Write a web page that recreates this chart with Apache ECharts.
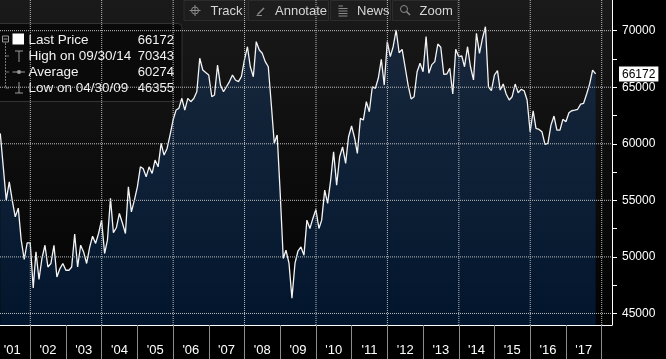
<!DOCTYPE html>
<html><head><meta charset="utf-8">
<script src="https://cdn.jsdelivr.net/npm/echarts@6/dist/echarts.min.js"></script>
<style>html,body{margin:0;padding:0;background:#000;}#c{width:666px;height:359px;}</style>
</head><body><div id="c"></div>
<script>
// ---- data (month-end values, first point Feb 2001) ----
const startYear = 2001, startMonth = 2;
const values2001 = [60920, 57900, 55020, 56640, 55020, 53540, 54310, 51480, 49770, 51240, 51240];
const values2002 = [47250, 50440, 48000, 49860, 51030, 49110, 49420, 51030, 48230, 48970, 49420, 48820];
const values2003 = [48820, 49110, 52010, 49110, 51040, 50440, 49420, 50850, 51830, 51190, 52070, 53250];
const values2004 = [50300, 51480, 55170, 52140, 52600, 53840, 53000, 52070, 56190, 53980, 55000, 56190];
const values2005 = [57960, 57820, 57080, 57960, 57380, 58560, 57960, 60040, 59000, 59590, 60770, 62100];
const values2006 = [62980, 63130, 64020, 62980, 64020, 63720, 64000, 64600, 67560, 66520, 66300, 66080];
const values2007 = [64160, 64310, 66960, 65190, 64600, 65040, 65500, 66080, 65640, 65490, 65930, 67410];
const values2008 = [68580, 66810, 65930, 69030, 68290, 68000, 67260, 66810, 63580, 60040, 60770, 55610];
const values2009 = [49860, 50590, 49420, 46355, 49420, 50500, 50880, 50150, 53250, 52510, 53400, 54190];
const values2010 = [52510, 53250, 55900, 54730, 56790, 59290, 56340, 58850, 59730, 58270, 60620, 61570];
const values2011 = [60500, 59150, 62250, 62100, 63720, 62830, 65040, 64900, 65790, 67470, 65190, 69030];
const values2012 = [67700, 68580, 70060, 68050, 68350, 66810, 65190, 63960, 64160, 66370, 67120, 66370];
const values2013 = [69470, 66230, 67000, 67260, 68820, 68530, 66140, 66170, 66670, 64400, 68350, 67700];
const values2014 = [67760, 66810, 68580, 66810, 65640, 69770, 68000, 69330, 70343, 65040, 64690, 66080];
const values2015 = [66460, 64750, 65280, 64400, 63870, 64160, 65280, 64510, 64810, 64690, 63870, 61060];
const values2016 = [62920, 61360, 61270, 61060, 59950, 60040, 61650, 62450, 61210, 61210, 62160, 61950];
const values2017 = [62740, 62920, 62980, 63050, 63500, 63580, 64400, 65300, 66520, 66172];

const yTickValues = [45000, 47500, 50000, 52500, 55000, 57500, 60000, 62500, 65000, 67500, 70000];
const yLabelValues = [45000, 50000, 55000, 60000, 65000, 70000];
const yearTicks = [2002, 2003, 2004, 2005, 2006, 2007, 2008, 2009, 2010, 2011, 2012, 2013, 2014, 2015, 2016, 2017, 2018];
const yearLabels = [2001, 2002, 2003, 2004, 2005, 2006, 2007, 2008, 2009, 2010, 2011, 2012, 2013, 2014, 2015, 2016, 2017];
const gridYears = [2002, 2004, 2006, 2008, 2010, 2012, 2014, 2016, 2018];
const legendNames = ['Last Price', 'High on 09/30/14', 'Average', 'Low on 04/30/09'];
const legendValues = ['66172', '70343', '60274', '46355'];
const lastPrice = 66172;
const toolbarButtons = ['Track', 'Annotate', 'News', 'Zoom'];

const values = [].concat(values2001, values2002, values2003, values2004, values2005, values2006,
  values2007, values2008, values2009, values2010, values2011, values2012, values2013,
  values2014, values2015, values2016, values2017);

const seriesData = values.map((v, i) => {
  const m = startMonth - 1 + i;
  const y = startYear + Math.floor(m / 12), mo = m % 12;
  return [Date.UTC(y, mo + 1, 0), v];
});

// axis range (layout): Jan 2002 at px 30.3, Jan 2018 at px 601.7, plot width 612
const T02 = Date.UTC(2002, 0, 1), T18 = Date.UTC(2018, 0, 1);
const msPerPx = (T18 - T02) / (601.7 - 30.3);
const xMin = T02 - 30.3 * msPerPx, xMax = T02 + (612 - 30.3) * msPerPx;
const yMin = 43980, yMax = 72710;

const FONT = '"Liberation Sans", Arial, sans-serif';

const chart = echarts.init(document.getElementById('c'), null, { renderer: 'canvas' });

// dotted grid lines as plain line series through the axes
const gridStyle = { color: '#bdbdbd', type: 'dotted', width: 1, opacity: 1 };
const gridSeries = yLabelValues.map(v => ({
  type: 'line', data: [[xMin, v], [xMax, v]], showSymbol: false, symbol: 'none', z: 3, clip: false,
  lineStyle: gridStyle
})).concat(gridYears.map(y => ({
  type: 'line', data: [[Date.UTC(y, 0, 1), yMin], [Date.UTC(y, 0, 1), yMax]], showSymbol: false, symbol: 'none', z: 3, clip: false,
  lineStyle: gridStyle
})));

// toolbar graphics
const btnBoxes = [[184, 63], [248.5, 80], [330.5, 60], [392.5, 65]];
const btnTextX = [210.5, 275, 357, 419.5];
const toolbar = [];
toolbarButtons.forEach((t, i) => {
  toolbar.push({ type: 'rect', z: 1, shape: { x: btnBoxes[i][0], y: 0.5, width: btnBoxes[i][1], height: 20 },
    style: { fill: '#1d1d1d', stroke: '#2c2c2c', lineWidth: 1 } });
  toolbar.push({ type: 'text', z: 1, style: { text: t, x: btnTextX[i], y: 11, fill: '#d6d6d6',
    font: '13px ' + FONT, verticalAlign: 'middle', align: 'left' } });
});
const ic = '#8a8a8a';
toolbar.push({ type: 'circle', z: 1, shape: { cx: 195, cy: 10.5, r: 3.5 }, style: { fill: 'none', stroke: ic, lineWidth: 1 } });
toolbar.push({ type: 'line', z: 1, shape: { x1: 189.5, y1: 10.5, x2: 200.5, y2: 10.5 }, style: { stroke: ic, lineWidth: 1 } });
toolbar.push({ type: 'line', z: 1, shape: { x1: 195, y1: 5, x2: 195, y2: 16 }, style: { stroke: ic, lineWidth: 1 } });
toolbar.push({ type: 'line', z: 1, shape: { x1: 257.5, y1: 14.5, x2: 264, y2: 8 }, style: { stroke: ic, lineWidth: 1.5 } });
toolbar.push({ type: 'line', z: 1, shape: { x1: 256.5, y1: 15.5, x2: 262, y2: 15.5 }, style: { stroke: ic, lineWidth: 1 } });
[6, 8.5, 11, 13.5, 16].forEach((yy, k) => toolbar.push({ type: 'line', z: 1,
  shape: { x1: 338.5, y1: yy, x2: k === 0 ? 343 : 347.5, y2: yy }, style: { stroke: ic, lineWidth: 1 } }));
toolbar.push({ type: 'circle', z: 1, shape: { cx: 404, cy: 9, r: 3.5 }, style: { fill: 'none', stroke: ic, lineWidth: 1 } });
toolbar.push({ type: 'line', z: 1, shape: { x1: 406.5, y1: 11.5, x2: 410, y2: 15 }, style: { stroke: ic, lineWidth: 1.5 } });

// legend box
const legendEls = [
  { type: 'rect', shape: { x: -3, y: 23.5, width: 185, height: 78, r: [0, 4, 4, 0] },
    style: { fill: 'rgba(10,10,10,0.94)', stroke: '#333', lineWidth: 1 } },
  { type: 'rect', shape: { x: 2.5, y: 36, width: 6, height: 6 }, style: { fill: 'none', stroke: '#9a9a9a', lineWidth: 1 } },
  { type: 'line', shape: { x1: 3.5, y1: 39, x2: 7.5, y2: 39 }, style: { stroke: '#9a9a9a', lineWidth: 1 } },
  { type: 'line', shape: { x1: 5.5, y1: 43, x2: 5.5, y2: 88 }, style: { stroke: '#777', lineWidth: 1, lineDash: [2, 1] } },
  { type: 'line', shape: { x1: 5.5, y1: 56, x2: 9, y2: 56 }, style: { stroke: '#777', lineWidth: 1 } },
  { type: 'line', shape: { x1: 5.5, y1: 72, x2: 9, y2: 72 }, style: { stroke: '#777', lineWidth: 1 } },
  { type: 'line', shape: { x1: 5.5, y1: 88, x2: 9, y2: 88 }, style: { stroke: '#777', lineWidth: 1 } },
  { type: 'rect', shape: { x: 12.5, y: 33.5, width: 11.5, height: 11 }, style: { fill: '#ffffff' } },
  { type: 'line', shape: { x1: 15, y1: 51, x2: 23, y2: 51 }, style: { stroke: '#9a9a9a', lineWidth: 1 } },
  { type: 'line', shape: { x1: 19, y1: 51, x2: 19, y2: 62 }, style: { stroke: '#9a9a9a', lineWidth: 1 } },
  { type: 'line', shape: { x1: 12.5, y1: 72, x2: 25, y2: 72 }, style: { stroke: '#9a9a9a', lineWidth: 1 } },
  { type: 'circle', shape: { cx: 19, cy: 72, r: 2 }, style: { fill: '#9a9a9a' } },
  { type: 'line', shape: { x1: 19, y1: 82, x2: 19, y2: 93 }, style: { stroke: '#9a9a9a', lineWidth: 1 } },
  { type: 'line', shape: { x1: 15, y1: 93, x2: 23, y2: 93 }, style: { stroke: '#9a9a9a', lineWidth: 1 } }
];
legendNames.forEach((n, i) => {
  const yy = 40 + i * 16;
  legendEls.push({ type: 'text', style: { text: n, x: 28.5, y: yy, fill: '#f2f2f2', font: '13.5px ' + FONT, verticalAlign: 'middle' } });
  legendEls.push({ type: 'text', style: { text: legendValues[i], x: 174, y: yy, fill: '#f2f2f2', font: '13px ' + FONT, verticalAlign: 'middle', align: 'right' } });
});

const option = {
  backgroundColor: '#000',
  animation: false,
  grid: {
    left: 0, right: 54, top: 0, bottom: 34, show: true, z: 0, borderWidth: 0,
    backgroundColor: new echarts.graphic.LinearGradient(0, 0, 0, 1, [
      { offset: 0, color: '#1a1a1a' }, { offset: 0.45, color: '#0e0e0e' }, { offset: 1, color: '#020202' }
    ])
  },
  xAxis: {
    type: 'value', min: xMin, max: xMax,
    axisLine: { show: true, lineStyle: { color: '#ffffff', width: 1 } },
    axisTick: { show: true, length: 34, lineStyle: { color: '#8c8c8c', width: 1 },
      customValues: yearTicks.map(y => Date.UTC(y, 0, 1)) },
    axisLabel: { show: true, color: '#ffffff', fontSize: 13, fontFamily: FONT, margin: 19,
      customValues: yearLabels.map(y => Date.UTC(y, 6, 1)),
      formatter: v => "'" + String(new Date(v).getUTCFullYear()).slice(2) },
    splitLine: { show: false }
  },
  yAxis: {
    type: 'value', position: 'right', min: yMin, max: yMax,
    axisLine: { show: true, lineStyle: { color: '#ffffff', width: 1 } },
    axisTick: { show: true, length: 5, lineStyle: { color: '#ffffff' }, customValues: yTickValues },
    axisLabel: { show: true, color: '#ffffff', fontSize: 12, fontFamily: FONT, margin: 10,
      customValues: yLabelValues, formatter: v => String(v) },
    splitLine: { show: false },
    axisPointer: {
      show: true, type: 'line', value: lastPrice, status: 'show', snap: false, triggerTooltip: false,
      lineStyle: { opacity: 0, width: 0 },
      label: { show: true, formatter: p => String(Math.round(p.value)), backgroundColor: '#ffffff',
        color: '#000000', fontSize: 12, fontFamily: FONT, padding: [2, 3, 1, 3], margin: 7, borderRadius: 0 }
    }
  },
  series: [{
    type: 'line', data: seriesData, showSymbol: false, symbol: 'none', z: 2,
    lineStyle: { color: '#f4f4f4', width: 1.3 },
    areaStyle: { origin: 'start', color: new echarts.graphic.LinearGradient(0, 0, 0, 1, [
      { offset: 0, color: '#192c48' }, { offset: 0.5, color: '#0e2949' }, { offset: 1, color: '#011d3e' }
    ]) }
  }].concat(gridSeries),
  graphic: [
    { type: 'group', z: 1, children: toolbar },
    { type: 'group', z: 100, children: legendEls }
  ]
};
chart.setOption(option);
</script></body></html>
